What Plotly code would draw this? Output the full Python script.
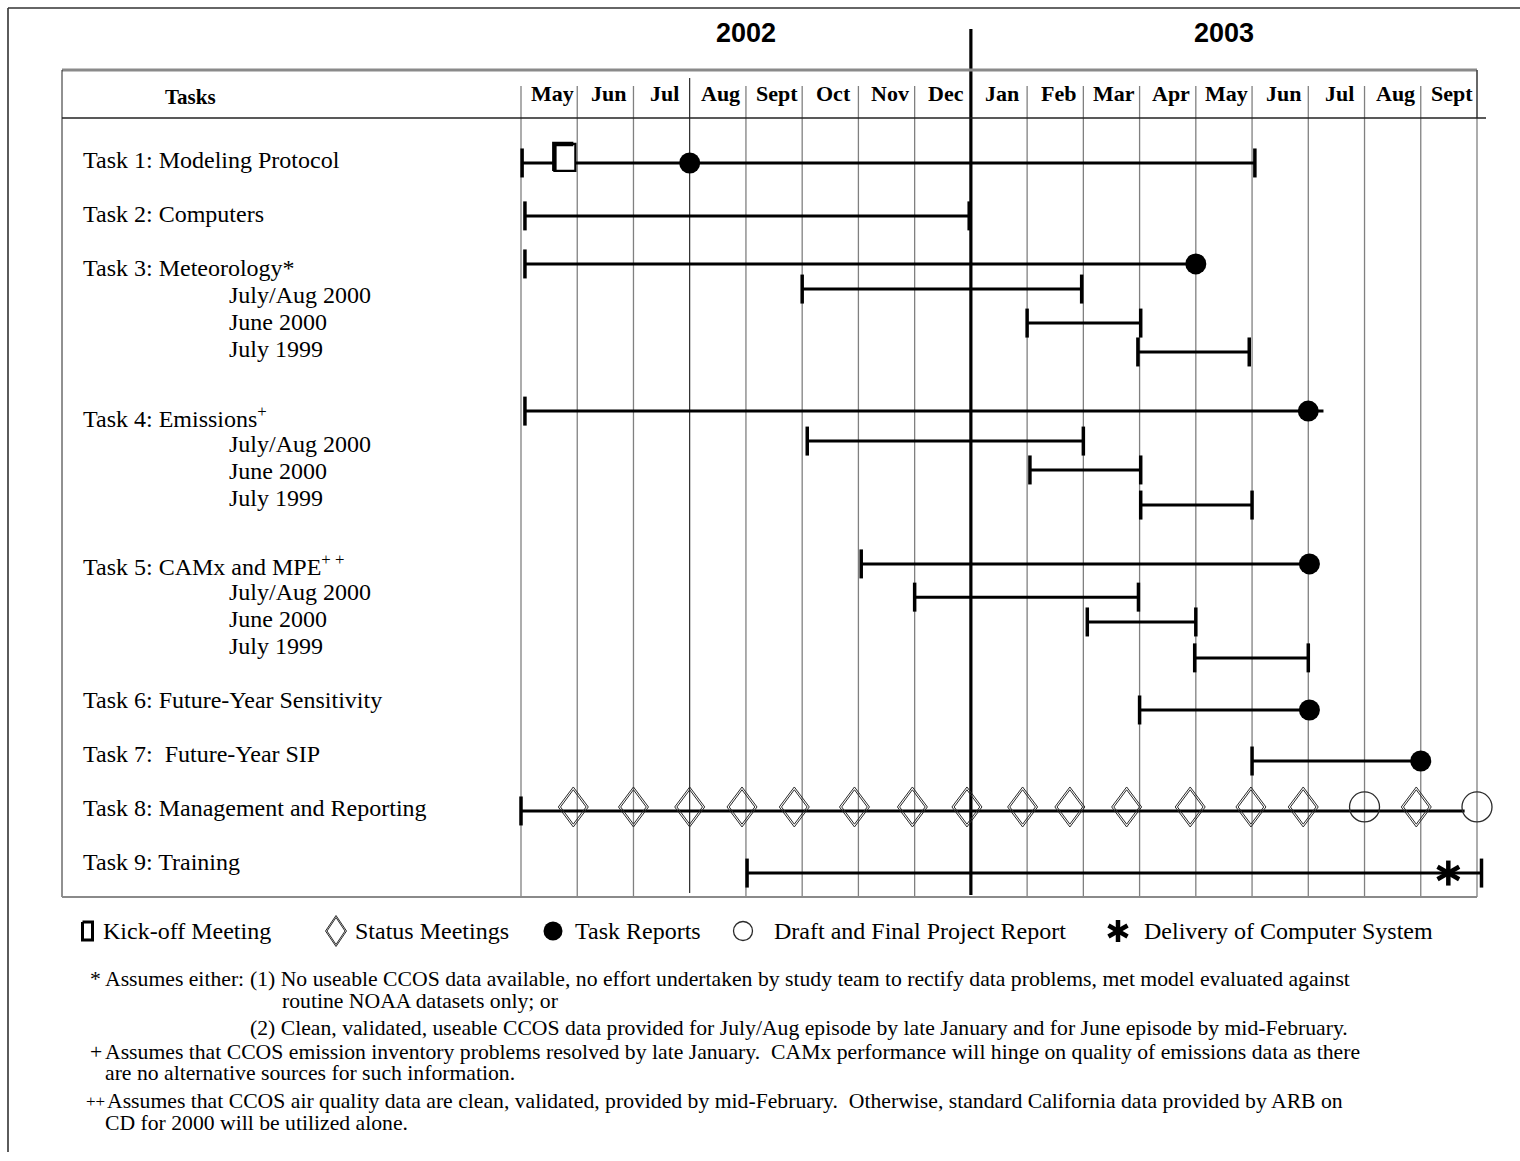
import math
import plotly.graph_objects as go

# ---------------- data ----------------
months = ["May", "Jun", "Jul", "Aug", "Sept", "Oct", "Nov", "Dec",
          "Jan", "Feb", "Mar", "Apr", "May", "Jun", "Jul", "Aug", "Sept"]
year_labels = ["2002", "2003"]
months_per_year = [8, 9]

task_labels = [
    "Task 1: Modeling Protocol",
    "Task 2: Computers",
    "Task 3: Meteorology*",
    "July/Aug 2000", "June 2000", "July 1999",
    "Task 4: Emissions<sup>+</sup>",
    "July/Aug 2000", "June 2000", "July 1999",
    "Task 5: CAMx and MPE<sup>+ +</sup>",
    "July/Aug 2000", "June 2000", "July 1999",
    "Task 6: Future-Year Sensitivity",
    "Task 7:\u00a0 Future-Year SIP",
    "Task 8: Management and Reporting",
    "Task 9: Training",
]
label_rows = [0, 2, 4, 5, 6, 7, 9.5, 10.5, 11.5, 12.5, 15, 16, 17, 18, 20, 22, 24, 26]
label_is_sub = [0, 0, 0, 1, 1, 1, 0, 1, 1, 1, 0, 1, 1, 1, 0, 0, 0, 0]

# activity bars (x in months from start of May 2002)
bar_start = [0.02, 0.07, 0.07, 5.0, 9.0, 10.97, 0.07, 5.09, 9.05, 11.02,
             6.05, 7.0, 10.07, 11.98, 11.0, 13.0, 0.0, 4.02]
bar_end = [13.05, 7.97, 12.0, 9.97, 11.02, 12.95, 14.27, 10.0, 11.02, 13.0,
           14.02, 10.98, 12.0, 14.0, 14.02, 16.0, 16.78, 17.08]
bar_row = [0.11, 2.07, 3.85, 4.78, 6.04, 7.11, 9.30, 10.41, 11.48, 12.78,
           14.96, 16.19, 17.11, 18.44, 20.37, 22.26, 24.11, 26.41]
start_cap = [1, 1, 1, 1, 1, 1, 1, 1, 1, 1, 1, 1, 1, 1, 1, 1, 1, 1]
end_cap = [1, 1, 0, 1, 1, 1, 0, 1, 1, 1, 0, 1, 1, 1, 0, 0, 0, 1]

# milestones
kickoff_x = [0.78]
kickoff_bar = [0]
report_x = [3.0, 12.0, 14.0, 14.02, 14.02, 16.0]
report_bar = [0, 2, 6, 10, 14, 15]
status_x = [0.93, 2.0, 3.0, 3.93, 4.86, 5.93, 6.96, 7.93, 8.92, 9.76,
            10.77, 11.9, 12.98, 13.91, 15.92]
status_bar = 16
final_report_x = [15.0, 17.0]
final_report_bar = 16
delivery_x = [16.49]
delivery_bar = 17

legend_labels = ["Kick-off Meeting", "Status Meetings", "Task Reports",
                 "Draft and Final Project Report", "Delivery of Computer System"]

footnote_marks = ["*", "+", "++"]
footnote_lines = [
    "Assumes either:",
    "(1) No useable CCOS data available, no effort undertaken by study team to rectify data problems, met model evaluated against",
    "routine NOAA datasets only; or",
    "(2) Clean, validated, useable CCOS data provided for July/Aug episode by late January and for June episode by mid-February.",
    "Assumes that CCOS emission inventory problems resolved by late January.\u00a0 CAMx performance will hinge on quality of emissions data as there",
    "are no alternative sources for such information.",
    "Assumes that CCOS air quality data are clean, validated, provided by mid-February.\u00a0 Otherwise, standard California data provided by ARB on",
    "CD for 2000 will be utilized alone.",
]

# ---------------- geometry ----------------
W, H = 1520, 1161
GX0, GX1 = 521.0, 1477.0
NM = len(months)
U = (GX1 - GX0) / NM
R0, RP = 160.0, 27.0


def px_x(p):
    return (p - GX0) / U


def px_r(p):
    return (p - R0) / RP


def wx(p):
    return p / U


def wr(p):
    return p / RP


def px(p):
    return p / W


def py(p):
    return 1 - p / H


SERIF = "Liberation Serif, Times New Roman, serif"
SANS = "Liberation Sans, Arial, sans-serif"

fig = go.Figure()

# bars
bx, by = [], []
for s, e, r in zip(bar_start, bar_end, bar_row):
    bx += [s, e, None]
    by += [r, r, None]
fig.add_trace(go.Scatter(x=bx, y=by, mode="lines", line=dict(color="black", width=3),
                         hoverinfo="skip", showlegend=False))

# caps
cx, cy = [], []
for s, e, r, sc, ec in zip(bar_start, bar_end, bar_row, start_cap, end_cap):
    if sc:
        cx += [s, s, None]
        cy += [r - wr(14.5), r + wr(14.5), None]
    if ec:
        cx += [e, e, None]
        cy += [r - wr(14.5), r + wr(14.5), None]
fig.add_trace(go.Scatter(x=cx, y=cy, mode="lines", line=dict(color="black", width=3.5),
                         hoverinfo="skip", showlegend=False))


def diamond_path(xc, yc, hw, hh):
    return ([xc - wx(hw), xc, xc + wx(hw), xc, xc - wx(hw), None],
            [yc, yc - wr(hh), yc, yc + wr(hh), yc, None])


# status meetings (double outline diamonds)
srow = bar_row[status_bar] - wr(4)
dxs, dys = [], []
for x in status_x:
    for hw, hh in [(15, 20), (12.8, 17.2)]:
        a, b = diamond_path(x, srow, hw, hh)
        dxs += a
        dys += b
fig.add_trace(go.Scatter(x=dxs, y=dys, mode="lines", line=dict(color="#2a2a2a", width=1),
                         hoverinfo="skip", showlegend=False))

# draft / final report circles
frow = bar_row[final_report_bar] - wr(4)
fig.add_trace(go.Scatter(x=final_report_x, y=[frow] * len(final_report_x), mode="markers",
                         marker=dict(symbol="circle-open", size=30, color="#2a2a2a",
                                     line=dict(width=1.3)),
                         hoverinfo="skip", showlegend=False))

# task reports
fig.add_trace(go.Scatter(x=report_x, y=[bar_row[i] for i in report_bar], mode="markers",
                         marker=dict(symbol="circle", size=21, color="black"),
                         hoverinfo="skip", showlegend=False))


def asterisk_path(xc, yc, rad):
    ax, ay = [], []
    for ang in (90, 30, 150):
        c, s = math.cos(math.radians(ang)), math.sin(math.radians(ang))
        ax += [xc - wx(rad * c), xc + wx(rad * c), None]
        ay += [yc - wr(rad * s), yc + wr(rad * s), None]
    return ax, ay


# delivery of computer system
axs, ays = [], []
for x in delivery_x:
    a, b = asterisk_path(x, bar_row[delivery_bar], 12.5)
    axs += a
    ays += b
fig.add_trace(go.Scatter(x=axs, y=ays, mode="lines", line=dict(color="black", width=4.5),
                         hoverinfo="skip", showlegend=False))

# kick-off meeting box
for x, bi in zip(kickoff_x, kickoff_bar):
    r = bar_row[bi]
    xl, xr = x - wx(10.5), x + wx(10.5)
    yt, yb = r - wr(19), r + wr(8)
    fig.add_trace(go.Scatter(x=[xl, xr, xr, xl, xl], y=[yt, yt, yb, yb, yt], mode="lines",
                             fill="toself", fillcolor="white",
                             line=dict(color="black", width=2.2),
                             hoverinfo="skip", showlegend=False))
    fig.add_trace(go.Scatter(x=[xl, xl, xr - wx(2)], y=[yb, yt, yt], mode="lines",
                             line=dict(color="black", width=4.5),
                             hoverinfo="skip", showlegend=False))

# ---------------- legend (manual) ----------------
LEG_Y = 931
leg_icon_px = [87.5, 336, 553, 743, 1118]
leg_text_px = [101, 353, 573, 772, 1142]
ly = px_r(LEG_Y)
xl, xr = px_x(82.5), px_x(92.5)
yt, yb = px_r(922), px_r(940)
fig.add_trace(go.Scatter(x=[xl, xr, xr, xl, xl], y=[yt, yt, yb, yb, yt], mode="lines",
                         line=dict(color="black", width=3), hoverinfo="skip", showlegend=False))
a, b = diamond_path(px_x(leg_icon_px[1]), ly, 10.5, 15.5)
a2, b2 = diamond_path(px_x(leg_icon_px[1]), ly, 9, 13.5)
fig.add_trace(go.Scatter(x=a + a2, y=b + b2, mode="lines", line=dict(color="#2a2a2a", width=1),
                         hoverinfo="skip", showlegend=False))
fig.add_trace(go.Scatter(x=[px_x(leg_icon_px[2])], y=[ly], mode="markers",
                         marker=dict(symbol="circle", size=19, color="black"),
                         hoverinfo="skip", showlegend=False))
fig.add_trace(go.Scatter(x=[px_x(leg_icon_px[3])], y=[ly], mode="markers",
                         marker=dict(symbol="circle-open", size=19, color="#2a2a2a",
                                     line=dict(width=1.3)),
                         hoverinfo="skip", showlegend=False))
a, b = asterisk_path(px_x(leg_icon_px[4]), ly, 11)
fig.add_trace(go.Scatter(x=a, y=b, mode="lines", line=dict(color="black", width=4.5),
                         hoverinfo="skip", showlegend=False))

annotations = []
for t, xp in zip(legend_labels, leg_text_px):
    annotations.append(dict(text=t, x=px(xp), xref="paper", y=py(LEG_Y), yref="paper",
                            xanchor="left", yanchor="middle", showarrow=False,
                            font=dict(family=SERIF, size=24, color="black")))

# ---------------- shapes: frames and grid ----------------
shapes = []


def pline(x0, y0, x1, y1, color, width):
    shapes.append(dict(type="line", xref="paper", yref="paper", x0=px(x0), x1=px(x1),
                       y0=py(y0), y1=py(y1), line=dict(color=color, width=width)))


year_break = months_per_year[0]
for i in range(NM + 1):
    top, color, width = 86, "#808080", 1.3
    bottom = 897
    if i == 3:
        top, color, width, bottom = 78, "black", 1.0, 893
    if i == NM:
        top = 70
    if i == year_break:
        top, color, width, bottom = 29, "black", 3.2, 895
    shapes.append(dict(type="line", xref="x", yref="paper", x0=i, x1=i,
                       y0=py(bottom), y1=py(top), layer="below",
                       line=dict(color=color, width=width)))

pline(8, 8, 1520, 8, "#333333", 1.6)
pline(8, 8, 8, 1152, "#333333", 1.6)
pline(62, 70, 1477, 70, "#8a8a8a", 3)
pline(62, 70, 62, 897, "#222222", 1)
pline(1477, 70, 1477, 118, "#222222", 1)
pline(62, 118, 1486, 118, "#222222", 1.5)
pline(62, 897, 1477, 897, "#8a8a8a", 2)

# ---------------- text ----------------
annotations.append(dict(text="<b>Tasks</b>", x=px(190), xref="paper", y=py(97), yref="paper",
                        xanchor="center", yanchor="middle", showarrow=False,
                        font=dict(family=SERIF, size=21, color="black")))
for i, m in enumerate(months):
    annotations.append(dict(text="<b>%s</b>" % m, x=i + 0.5 + wx(3), xref="x", y=py(94),
                            yref="paper", xanchor="center", yanchor="middle", showarrow=False,
                            font=dict(family=SERIF, size=22, color="black")))
start = 0
for yl, n in zip(year_labels, months_per_year):
    annotations.append(dict(text="<b>%s</b>" % yl, x=start + n / 2.0, xref="x", y=py(33),
                            yref="paper", xanchor="center", yanchor="middle", showarrow=False,
                            font=dict(family=SANS, size=27, color="black")))
    start += n

for t, r, sub in zip(task_labels, label_rows, label_is_sub):
    annotations.append(dict(text=t, x=px(227 if sub else 81), xref="paper", y=r, yref="y",
                            xanchor="left", yanchor="middle", showarrow=False,
                            font=dict(family=SERIF, size=24, color="black")))

fn_font = dict(family=SERIF, size=21.7, color="black")
mark_pos = [(88, 979, 21.7), (88, 1052, 21.7), (84, 1101, 17)]
for mk, (xp, yp, fs) in zip(footnote_marks, mark_pos):
    annotations.append(dict(text=mk, x=px(xp), xref="paper", y=py(yp), yref="paper",
                            xanchor="left", yanchor="middle", showarrow=False,
                            font=dict(family=SERIF, size=fs, color="black")))
line_pos = [(103, 979), (248, 979), (280, 1001), (248, 1028), (103, 1052), (103, 1073),
            (105, 1101), (103, 1123)]
for t, (xp, yp) in zip(footnote_lines, line_pos):
    annotations.append(dict(text=t, x=px(xp), xref="paper", y=py(yp), yref="paper",
                            xanchor="left", yanchor="middle", showarrow=False, font=fn_font))

fig.update_layout(
    width=W, height=H,
    margin=dict(l=0, r=0, t=0, b=0, pad=0),
    paper_bgcolor="white", plot_bgcolor="white",
    xaxis=dict(range=[px_x(0), px_x(W)], visible=False, fixedrange=True),
    yaxis=dict(range=[px_r(H), px_r(0)], visible=False, fixedrange=True),
    shapes=shapes, annotations=annotations,
    hovermode=False, showlegend=False,
)

fig.write_html("out.html", config={"displayModeBar": False},
               post_script="document.body.style.margin='0';document.body.style.overflow='hidden';")
